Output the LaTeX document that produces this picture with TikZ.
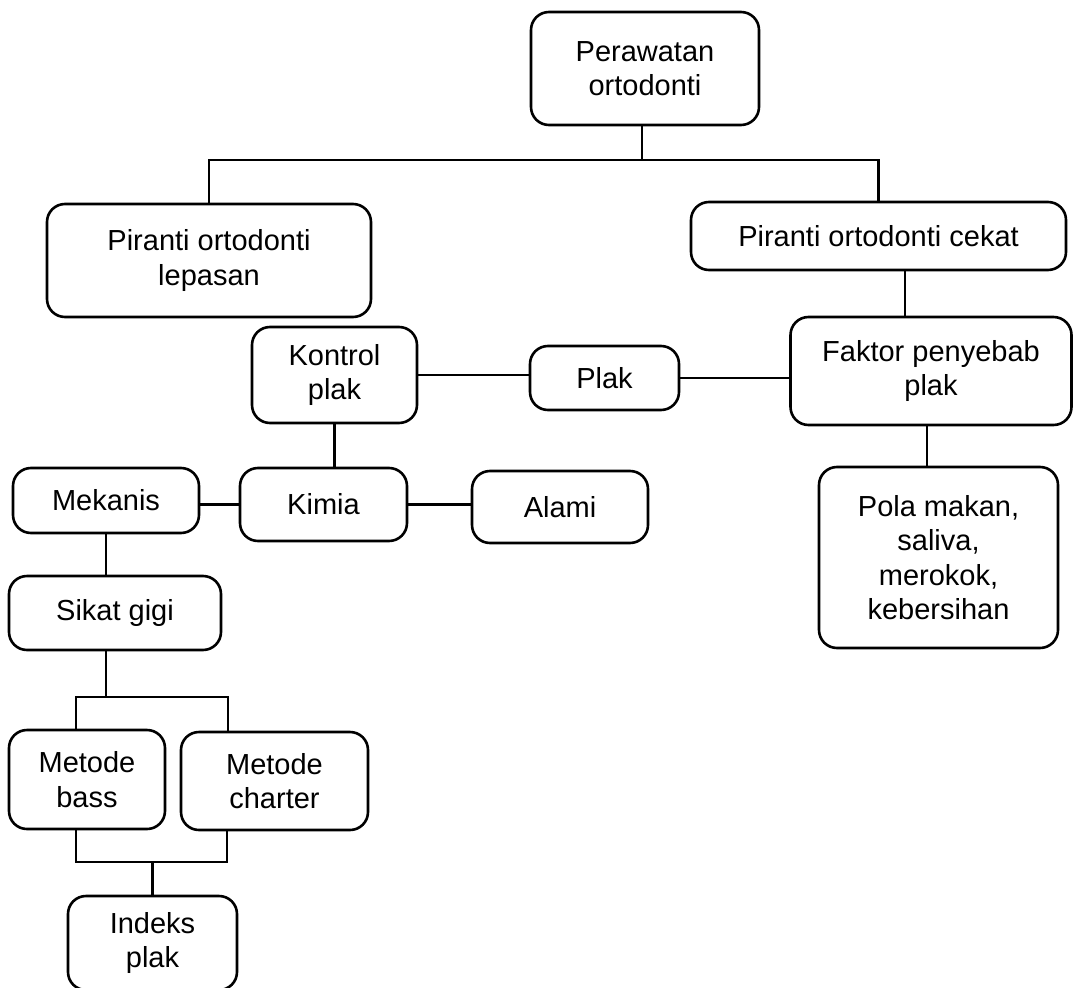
\documentclass[tikz,border=0pt]{standalone}
\usepackage{fontspec}
\setmainfont{Liberation Sans}

\begin{document}
\begin{tikzpicture}[x=1pt, y=-1pt,
    box/.style={draw, rectangle, rounded corners=18pt, line width=2.6pt,
        align=center, inner sep=0pt, font=\fontsize{29}{34.5}\selectfont},
    link/.style={line width=2.2pt}]

    \useasboundingbox (0,0) rectangle (1075,987);

    % Nodes
    \node (top) [box, minimum width=228pt, minimum height=113pt] at (645,68.5) {Perawatan\\ortodonti};
    \node (lepasan) [box, minimum width=324pt, minimum height=113pt] at (209,260.5) {Piranti ortodonti\\lepasan};
    \node (cekat) [box, minimum width=375pt, minimum height=68pt] at (878.5,236) {Piranti ortodonti cekat};
    \node (faktor) [box, minimum width=281pt, minimum height=108pt] at (931,371) {Faktor penyebab\\plak};
    \node (pola) [box, minimum width=239pt, minimum height=181pt] at (938.5,557.5) {Pola makan,\\saliva,\\merokok,\\kebersihan};
    \node (plak) [box, minimum width=149pt, minimum height=64pt] at (604.5,378) {Plak};
    \node (kontrol) [box, minimum width=165pt, minimum height=96pt] at (334.5,375) {Kontrol\\plak};
    \node (kimia) [box, minimum width=167pt, minimum height=73pt] at (323.5,504.5) {Kimia};
    \node (alami) [box, minimum width=176pt, minimum height=72pt] at (560,507) {Alami};
    \node (mekanis) [box, minimum width=186pt, minimum height=65pt] at (106,500.5) {Mekanis};
    \node (sikat) [box, minimum width=212pt, minimum height=74pt] at (115,613) {Sikat gigi};
    \node (bass) [box, minimum width=156pt, minimum height=99pt] at (87,779.5) {Metode\\bass};
    \node (charter) [box, minimum width=187pt, minimum height=98pt] at (274.5,781) {Metode\\charter};
    \node (indeks) [box, minimum width=169pt, minimum height=94pt] at (152.5,943) {Indeks\\plak};

    % Junctions
    \coordinate (split) at (642,160);
    \coordinate (fork) at (106,697);
    \coordinate (forkL) at (76,697);
    \coordinate (forkR) at (228,697);
    \coordinate (joinL) at (76,862);
    \coordinate (joinR) at (227,862);
    \coordinate (drop) at ([xshift=26.5pt]cekat.south);

    % Lines
    \draw[link] (split |- top.south) -- (split);
    \draw[link] (lepasan.north) |- (split) -| (cekat.north);
    \draw[link] (drop) -- (drop |- faktor.north);
    \draw[link] ([xshift=-4pt]faktor.south) -- ([xshift=-4pt]faktor.south |- pola.north);
    \draw[link] (plak.east) -- (plak.east -| faktor.west);
    \draw[link] (kontrol.east) -- (kontrol.east -| plak.west);
    \draw[link] (kontrol.south) -- (kontrol.south |- kimia.north);
    \draw[link] (kimia.east) -- (kimia.east -| alami.west);
    \draw[link] (kimia.west) -- (kimia.west -| mekanis.east);
    \draw[link] (mekanis.south) -- (mekanis.south |- sikat.north);
    \draw[link] (fork |- sikat.south) -- (fork);
    \draw[link] (forkL |- bass.north) -- (forkL) -- (forkR) -- (forkR |- charter.north);
    \draw[link] (joinL |- bass.south) -- (joinL) -- (joinR) -- (joinR |- charter.south);
    \draw[link] (indeks.north) -- (indeks.north |- joinL);
\end{tikzpicture}
\end{document}
